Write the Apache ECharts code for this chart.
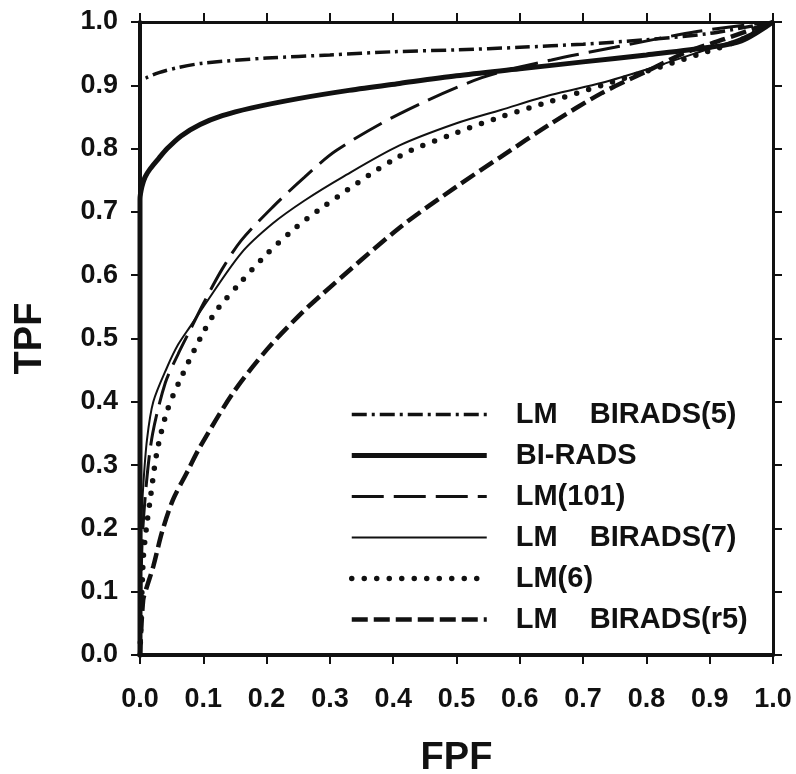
<!DOCTYPE html>
<html>
<head>
<meta charset="utf-8">
<script src="https://cdn.jsdelivr.net/npm/echarts@6/dist/echarts.min.js"></script>
<style>
  html, body { margin: 0; padding: 0; background: #fff; }
  #main { width: 796px; height: 774px; }
</style>
</head>
<body>
<div id="main"></div>
<script>
// ROC curves, points are [FPF, TPF]
var names = ["LM    BIRADS(5)", "BI-RADS", "LM(101)", "LM    BIRADS(7)", "LM(6)", "LM    BIRADS(r5)"];

var lmBirads5 = [[0, 0], [0, 0.905], [0.01, 0.912], [0.03, 0.92], [0.06, 0.928], [0.1, 0.935],
  [0.2, 0.943], [0.3, 0.948], [0.4, 0.953], [0.5, 0.956], [0.6, 0.96], [0.7, 0.965],
  [0.8, 0.972], [0.9, 0.982], [1, 1]];

var biRads = [[0, 0], [0, 0.72], [0.003, 0.74], [0.008, 0.755], [0.016, 0.768], [0.03, 0.785],
  [0.043, 0.8], [0.065, 0.82], [0.095, 0.838], [0.13, 0.852], [0.175, 0.864], [0.25, 0.879],
  [0.33, 0.892], [0.41, 0.903], [0.5, 0.915], [0.6, 0.926], [0.7, 0.937], [0.8, 0.948],
  [0.9, 0.96], [0.95, 0.97], [1, 1]];

var lm101 = [[0, 0], [0.003, 0.17], [0.01, 0.27], [0.02, 0.35], [0.04, 0.43], [0.06, 0.475],
  [0.08, 0.515], [0.1, 0.555], [0.13, 0.61], [0.16, 0.655], [0.21, 0.708], [0.26, 0.755],
  [0.31, 0.797], [0.41, 0.855], [0.54, 0.912], [0.65, 0.94], [0.75, 0.96], [0.88, 0.985],
  [1, 1]];

var lmBirads7 = [[0, 0], [0.002, 0.2], [0.005, 0.265], [0.011, 0.34], [0.021, 0.4],
  [0.043, 0.455], [0.06, 0.49], [0.08, 0.52], [0.1, 0.55], [0.16, 0.635], [0.21, 0.682],
  [0.26, 0.718], [0.32, 0.755], [0.41, 0.805], [0.5, 0.84], [0.57, 0.861], [0.65, 0.885],
  [0.73, 0.904], [0.8, 0.925], [0.885, 0.953], [0.95, 0.975], [1, 1]];

var lm6 = [[0, 0], [0.005, 0.15], [0.01, 0.2], [0.016, 0.245], [0.027, 0.322], [0.043, 0.386],
  [0.063, 0.434], [0.095, 0.5], [0.12, 0.543], [0.16, 0.59], [0.2, 0.633], [0.24, 0.67],
  [0.285, 0.705], [0.41, 0.788], [0.5, 0.825], [0.57, 0.85], [0.65, 0.875], [0.73, 0.9],
  [0.8, 0.922], [0.88, 0.948], [0.95, 0.972], [1, 1]];

var lmBiradsR5 = [[0, 0], [0.005, 0.087], [0.01, 0.105], [0.021, 0.14], [0.035, 0.195],
  [0.052, 0.245], [0.075, 0.29], [0.095, 0.329], [0.147, 0.414], [0.2, 0.482], [0.25, 0.535],
  [0.29, 0.572], [0.41, 0.675], [0.5, 0.74], [0.57, 0.787], [0.65, 0.84], [0.73, 0.888],
  [0.8, 0.922], [0.86, 0.951], [0.92, 0.972], [1, 1]];

var tickLabels = ["0.0", "0.1", "0.2", "0.3", "0.4", "0.5", "0.6", "0.7", "0.8", "0.9", "1.0"];

var font = "Liberation Sans";
var chart = echarts.init(document.getElementById("main"));

function axisBase(pos, showLabel, lineW) {
  return {
    type: "value",
    position: pos,
    min: 0,
    max: 1,
    interval: 0.1,
    splitLine: { show: false },
    axisLine: { show: true, onZero: false, lineStyle: { color: "#111", width: lineW } },
    axisTick: { show: true, inside: false, length: 9, lineStyle: { color: "#111", width: 2 } },
    axisLabel: {
      show: showLabel,
      color: "#111",
      fontFamily: font,
      fontWeight: "bold",
      fontSize: 27,
      formatter: function (v) { return tickLabels[Math.round(v * 10)]; }
    }
  };
}

var xBottom = axisBase("bottom", true, 4);
xBottom.axisLabel.margin = 31;
xBottom.name = "FPF";
xBottom.nameLocation = "middle";
xBottom.nameGap = 85;
xBottom.nameTextStyle = { color: "#111", fontFamily: font, fontWeight: "bold", fontSize: 38 };
var xTop = axisBase("top", false, 3);

var yLeft = axisBase("left", true, 4);
yLeft.axisLabel.margin = 22;
yLeft.name = "TPF";
yLeft.nameLocation = "middle";
yLeft.nameGap = 90;
yLeft.nameTextStyle = { color: "#111", fontFamily: font, fontWeight: "bold", fontSize: 38 };
var yRight = axisBase("right", false, 3);

function line(name, data, width, type, cap) {
  return {
    name: name,
    type: "line",
    data: data,
    xAxisIndex: 0,
    yAxisIndex: 0,
    symbol: "none",
    smooth: 0.3,
    silent: true,
    itemStyle: { color: "#111" },
    lineStyle: { color: "#111", width: width, type: type, cap: cap || "butt" }
  };
}

var option = {
  backgroundColor: "#fff",
  animation: false,
  grid: { left: 140, top: 22, width: 633, height: 633, containLabel: false, outerBoundsMode: "none" },
  xAxis: [xBottom, xTop],
  yAxis: [yLeft, yRight],
  legend: {
    orient: "vertical",
    left: 344,
    top: 395,
    itemWidth: 135,
    itemHeight: 14,
    itemGap: 12,
    selectedMode: false,
    data: names,
    itemStyle: { opacity: 0 },
    lineStyle: { width: "inherit", type: "inherit", cap: "inherit" },
    textStyle: {
      color: "#111",
      fontFamily: font,
      fontWeight: "bold",
      fontSize: 29,
      lineHeight: 28,
      padding: [0, 0, 0, 24]
    }
  },
  series: [
    line(names[0], lmBirads5, 3.5, [15, 5, 3, 5]),
    line(names[1], biRads, 5, "solid"),
    line(names[2], lm101, 3, [32, 10]),
    line(names[3], lmBirads7, 2, "solid"),
    line(names[4], lm6, 5.5, [0, 12.5], "round"),
    line(names[5], lmBiradsR5, 4.5, [16, 6])
  ]
};

chart.setOption(option);
</script>
</body>
</html>
